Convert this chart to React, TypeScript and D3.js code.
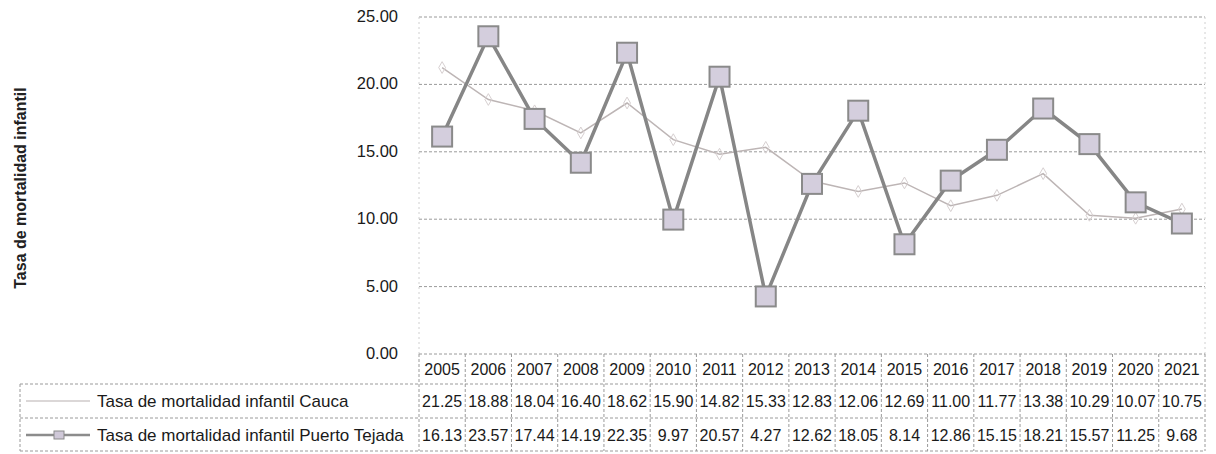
import React from "react";
import * as d3 from "d3";

const years = ["2005","2006","2007","2008","2009","2010","2011","2012","2013","2014","2015","2016","2017","2018","2019","2020","2021"];
const cauca = [21.25,18.88,18.04,16.40,18.62,15.90,14.82,15.33,12.83,12.06,12.69,11.00,11.77,13.38,10.29,10.07,10.75];
const puertoTejada = [16.13,23.57,17.44,14.19,22.35,9.97,20.57,4.27,12.62,18.05,8.14,12.86,15.15,18.21,15.57,11.25,9.68];
const yTicks = [0,5,10,15,20,25];
const seriesNames = ["Tasa de mortalidad infantil Cauca","Tasa de mortalidad infantil Puerto Tejada"];
const yTitle = "Tasa de mortalidad infantil";

const W = 1216, H = 454;
const plotLeft = 419, plotRight = 1205, plotTop = 17, plotBottom = 354;
const tableLeft = 20;
const headerY = 369, row1Y = 401, row2Y = 435;
const lineA = 384, lineB = 418, lineC = 451;
const font = "'Liberation Sans', Arial, sans-serif";

export default function App() {
  const x = d3.scaleBand<string>().domain(years).range([plotLeft, plotRight]).padding(0);
  const y = d3.scaleLinear().domain([0, 25]).range([plotBottom, plotTop]);
  const cx = (yr: string) => (x(yr) as number) + x.bandwidth() / 2;
  const line = d3.line<number>().x((_, i) => cx(years[i])).y(d => y(d));
  const grid = "#9a9a9a";
  const dash = "3,2";
  const ms = 20;
  const txt = "#1a1a1a";

  return (
    <svg width={W} height={H} style={{ position: "absolute", left: 0, top: 0, background: "#fff" }} fontFamily={font}>
      {/* gridlines */}
      {yTicks.filter(t => t > 0).map(t => (
        <line key={t} x1={plotLeft} x2={plotRight} y1={y(t)} y2={y(t)} stroke={grid} strokeWidth={1} strokeDasharray={dash} />
      ))}
      <line x1={plotLeft} x2={plotLeft} y1={plotTop} y2={plotBottom} stroke="#d0d0d0" strokeDasharray="2,3" />
      <line x1={plotRight} x2={plotRight} y1={plotTop} y2={plotBottom} stroke="#d0d0d0" strokeDasharray="2,3" />
      {/* y tick labels */}
      {yTicks.map(t => (
        <text key={t} x={398} y={y(t) + 5} textAnchor="end" fontSize={16.5} fill={txt}>{t.toFixed(2)}</text>
      ))}
      {/* y title */}
      <text transform={`translate(26,${188}) rotate(-90)`} textAnchor="middle" fontSize={16} fontWeight="bold" fill="#222">{yTitle}</text>

      {/* table */}
      <line x1={plotLeft} x2={plotRight} y1={plotBottom} y2={plotBottom} stroke={grid} strokeDasharray={dash} />
      {[lineA, lineB, lineC].map(v => (
        <line key={v} x1={tableLeft} x2={plotRight} y1={v} y2={v} stroke={grid} strokeDasharray={dash} />
      ))}
      <line x1={tableLeft} x2={tableLeft} y1={lineA} y2={lineC} stroke={grid} strokeDasharray={dash} />
      {years.map(yr => (
        <line key={yr} x1={x(yr)} x2={x(yr)} y1={plotBottom} y2={lineC} stroke={grid} strokeDasharray={dash} />
      ))}
      <line x1={plotRight} x2={plotRight} y1={plotBottom} y2={lineC} stroke={grid} strokeDasharray={dash} />
      {years.map(yr => (
        <text key={yr} x={cx(yr)} y={headerY + 6} textAnchor="middle" fontSize={16} fill={txt}>{yr}</text>
      ))}
      {cauca.map((v, i) => (
        <text key={i} x={cx(years[i])} y={row1Y + 6} textAnchor="middle" fontSize={16} fill={txt}>{v.toFixed(2)}</text>
      ))}
      {puertoTejada.map((v, i) => (
        <text key={i} x={cx(years[i])} y={row2Y + 6} textAnchor="middle" fontSize={16} fill={txt}>{v.toFixed(2)}</text>
      ))}
      {/* legend entries */}
      <line x1={26} x2={90} y1={row1Y} y2={row1Y} stroke="#b8b0b0" strokeWidth={1.2} />
      <text x={97} y={row1Y + 6} fontSize={17} fill={txt}>{seriesNames[0]}</text>
      <line x1={26} x2={90} y1={row2Y} y2={row2Y} stroke="#8c8c8c" strokeWidth={2.5} />
      <rect x={54} y={row2Y - 4} width={10} height={8} fill="#cfc8d8" stroke="#8a8a8a" />
      <text x={97} y={row2Y + 6} fontSize={17} fill={txt}>{seriesNames[1]}</text>

      {/* series */}
      <path d={line(cauca) || ""} fill="none" stroke="#bdb5b5" strokeWidth={1.5} />
      {cauca.map((v, i) => (
        <path key={i} d={d3.symbol(d3.symbolDiamond, 40)() || ""} transform={`translate(${cx(years[i])},${y(v)})`} fill="none" stroke="#d6cfd0" strokeWidth={1} />
      ))}
      <path d={line(puertoTejada) || ""} fill="none" stroke="#868686" strokeWidth={3.5} />
      {puertoTejada.map((v, i) => (
        <rect key={i} x={cx(years[i]) - ms / 2} y={y(v) - ms / 2} width={ms} height={ms} fill="#d4cedd" stroke="#8a8a8a" strokeWidth={2} />
      ))}
    </svg>
  );
}
